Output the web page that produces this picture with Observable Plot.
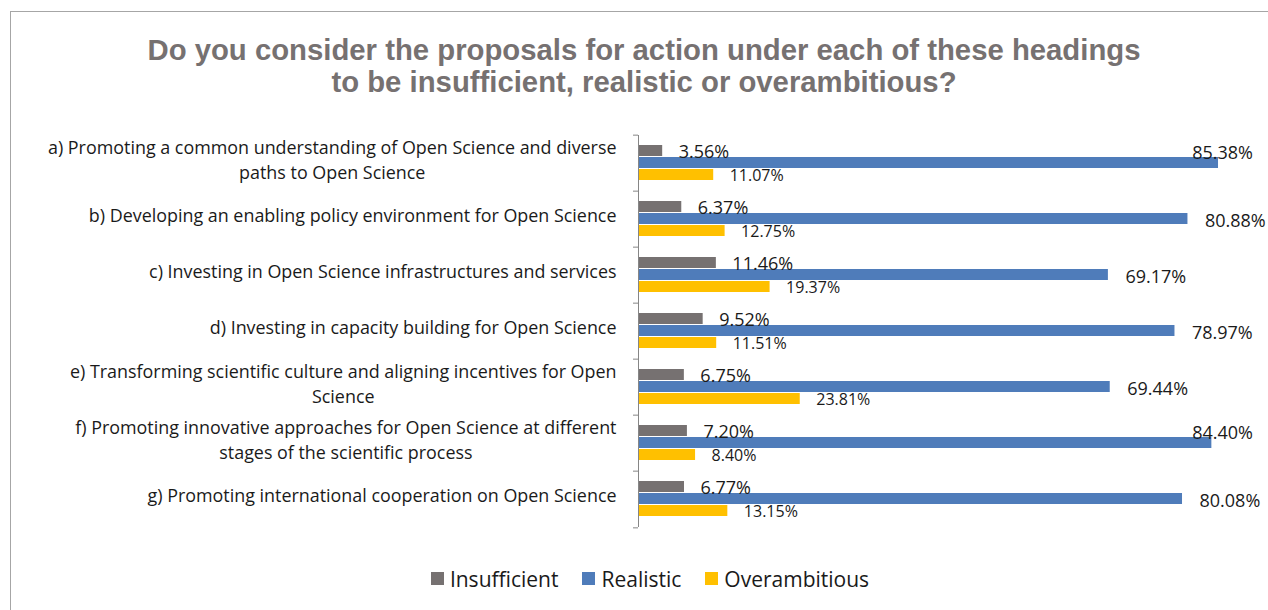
<!DOCTYPE html>
<html>
<head>
<meta charset="utf-8">
<script src="https://cdn.jsdelivr.net/npm/d3@7"></script>
<script src="https://cdn.jsdelivr.net/npm/@observablehq/plot@0.6"></script>
<style>
  html, body { margin: 0; padding: 0; background: #fff; overflow: hidden; width: 1268px; height: 610px; }
  #frame { position: absolute; left: 10px; top: 11px; width: 1290px; height: 640px; border: 1px solid #a6a6a6; box-sizing: border-box; }
  #title { position: absolute; left: 10px; top: 34px; width: 1268px; text-align: center; font: bold 29.3px "Liberation Sans", Arial, sans-serif; line-height: 32px; color: #767171; }
  #chart { position: absolute; left: 0; top: 98px; }
  #legend { position: absolute; left: 0; top: 562px; width: 1300px; }
  #legend .lg-swatches { justify-content: center; display: flex; }
  #legend .lg-swatch { margin-right: 24px !important; }
  #legend .lg-swatch:last-child { margin-right: 0 !important; }
  #legend .lg-swatch > svg { margin-right: 6px !important; }
</style>
</head>
<body>
<div id="frame"></div>
<div id="title">Do you consider the proposals for action under each of these headings<br>to be insufficient, realistic or overambitious?</div>
<div id="chart"></div>
<div id="legend"></div>
<script>
const categories = [
  "a) Promoting a common understanding of Open Science and diverse\npaths to Open Science",
  "b) Developing an enabling policy environment for Open Science",
  "c) Investing in Open Science infrastructures and services",
  "d) Investing in capacity building for Open Science",
  "e) Transforming scientific culture and aligning incentives for Open\nScience",
  "f) Promoting innovative approaches for Open Science at different\nstages of the scientific process",
  "g) Promoting international cooperation on Open Science"
];
const series = ["Insufficient", "Realistic", "Overambitious"];
const colors = ["#767171", "#4f7cba", "#ffc000"];
const insufficient = [3.56, 6.37, 11.46, 9.52, 6.75, 7.20, 6.77];
const realistic = [85.38, 80.88, 69.17, 78.97, 69.44, 84.40, 80.08];
const overambitious = [11.07, 12.75, 19.37, 11.51, 23.81, 8.40, 13.15];

const rows = categories.flatMap((c, i) => [
  {category: c, series: "Insufficient", value: insufficient[i]},
  {category: c, series: "Realistic", value: realistic[i]},
  {category: c, series: "Overambitious", value: overambitious[i]}
]);
const fmt = d => d.value.toFixed(2) + "%";
const band = (529 - 132) / categories.length;
const fits = d => d.value <= 81.5;   // labels that fit to the right of their bar

const chart = Plot.plot({
  width: 1268,
  height: 450,
  marginLeft: 638,
  marginRight: 18.6,
  marginTop: 34,
  marginBottom: 19,
  style: {fontFamily: "'Open Sans', sans-serif", background: "transparent", overflow: "visible"},
  x: {domain: [0, 90], axis: null},
  y: {domain: series, axis: null, paddingInner: 0.05, paddingOuter: 0.8},
  fy: {domain: categories, padding: 0, axis: null},
  color: {domain: series, range: colors},
  marks: [
    Plot.barX(rows, {fy: "category", y: "series", x: "value", fill: "series"}),
    Plot.ruleX([0], {stroke: "#868686", strokeWidth: 1}),
    Plot.text(rows.filter(d => d.series === "Insufficient"), {fy: "category", y: "series", x: "value", text: fmt, textAnchor: "start", dx: 16, dy: 1, fontSize: 18, fill: "#1a1a1a"}),
    Plot.text(rows.filter(d => d.series === "Realistic" && fits(d)), {fy: "category", y: "series", x: "value", text: fmt, textAnchor: "start", dx: 17, dy: 2, fontSize: 18, fill: "#1a1a1a"}),
    Plot.text(rows.filter(d => d.series === "Realistic" && !fits(d)), {fy: "category", y: "series", x: d => Math.min(d.value, 79), text: fmt, textAnchor: "start", dx: 17, dy: -10, fontSize: 18, fill: "#1a1a1a"}),
    Plot.text(rows.filter(d => d.series === "Overambitious"), {fy: "category", y: "series", x: "value", text: fmt, textAnchor: "start", dx: 16, dy: 0.5, fontSize: 16, fill: "#1a1a1a"}),
    Plot.axisFy({anchor: "left", tickSize: 0, tickPadding: 22, fontSize: 17.9, lineHeight: 1.38, dy: -5, fill: "#1a1a1a", label: null}),
    Plot.axisFy({anchor: "left", tickSize: 5, tickFormat: () => "", dy: -band / 2, stroke: "#868686", label: null}),
    Plot.axisFy({anchor: "left", ticks: [categories[categories.length - 1]], tickSize: 5, tickFormat: () => "", dy: band / 2, stroke: "#868686", label: null})
  ]
});
document.getElementById("chart").appendChild(chart);

// center multi-line category labels within their right-aligned block (as in the original)
chart.querySelectorAll('g[aria-label="fy-axis tick label"] text').forEach(t => {
  const tsp = t.querySelectorAll("tspan");
  if (tsp.length < 2) return;
  const b = t.getBBox();
  const right = b.x + b.width;
  t.setAttribute("text-anchor", "middle");
  tsp.forEach(s => s.setAttribute("x", 0));
  const nb = t.getBBox();
  const shift = (right - b.width / 2) - (nb.x + nb.width / 2);
  tsp.forEach(s => s.setAttribute("x", shift));
});

const legend = Plot.legend({
  color: {domain: series, range: colors},
  className: "lg",
  swatchSize: 13,
  style: {fontFamily: "'Open Sans', sans-serif", fontSize: "21px", color: "#1a1a1a"}
});
document.getElementById("legend").appendChild(legend);
</script>
</body>
</html>
